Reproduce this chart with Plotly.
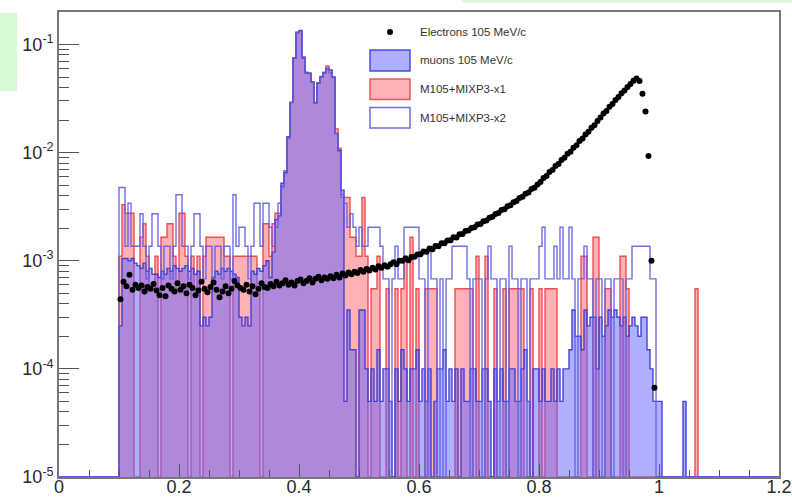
import plotly.graph_objects as go

# ---------------------------------------------------------------------------
# Histogram binning (normalised spectra, 0.005 wide bins starting at 0.1)
# ---------------------------------------------------------------------------
BIN_LO = 0.1
BIN_W = 0.005
X_RANGE = [0.0, 1.2]
Y_MIN = 1e-5

# weight of one entry in each normalised histogram (1 / number of events)
MUON_UNIT = 5.0e-5
MIX1_UNIT = 5.5e-4
MIX2_UNIT = 6.8e-4
ELEC_UNIT = 1.0e-4

# muons 105 MeV/c : entries per bin
muon_counts = [
    5, 21, 21, 20, 21, 19, 18, 17, 19, 16,
    17, 15, 15, 14, 16, 15, 17, 16, 18, 17,
    16, 17, 18, 16, 17, 15, 16, 5, 6, 5,
    6, 14, 16, 15, 17, 16, 17, 16, 15, 14,
    6, 5, 6, 5, 16, 15, 17, 16, 18, 20,
    14, 24, 48, 52, 104, 130, 280, 580, 1500, 2600,
    2700, 1500, 1100, 1080, 900, 580, 880, 1000, 1100, 1200,
    1160, 1000, 300, 210, 90, 1, 7, 3, 3, 0,
    7, 7, 2, 1, 2, 1, 3, 1, 2, 2,
    1, 0, 2, 1, 3, 2, 1, 2, 2, 3,
    1, 2, 1, 2, 0, 1, 2, 2, 3, 1,
    2, 1, 2, 0, 2, 1, 1, 2, 2, 1,
    1, 2, 2, 1, 0, 2, 1, 2, 1, 1,
    2, 2, 1, 1, 2, 3, 1, 0, 2, 2,
    1, 2, 1, 1, 2, 1, 2, 1, 2, 2,
    3, 7, 4, 4, 3, 7, 5, 6, 6, 2,
    6, 4, 5, 7, 6, 7, 6, 5, 6, 4,
    5, 6, 5, 4, 6, 6, 3, 2, 1, 1,
    1, 0, 0, 0, 0, 0, 0, 0, 1, 0,
    0, 0, 0, 0,
]

# M105+MIXP3-x1 : entries per bin
mix1_counts = [
    2, 6, 5, 5, 5, 0, 0, 3, 4, 2,
    1, 1, 2, 0, 3, 3, 4, 4, 2, 1,
    5, 5, 2, 0, 2, 1, 2, 0, 2, 3,
    3, 3, 3, 3, 3, 2, 2, 0, 2, 2,
    2, 2, 2, 2, 2, 2, 1, 0, 4, 4,
    2, 4, 5, 5, 9, 12, 25, 53, 136, 230,
    240, 140, 100, 98, 82, 52, 80, 92, 100, 115,
    100, 90, 30, 20, 7, 7, 7, 3, 3, 2,
    2, 7, 2, 0, 1, 1, 2, 0, 0, 1,
    0, 0, 1, 0, 1, 2, 0, 3, 0, 1,
    0, 0, 1, 1, 1, 1, 0, 0, 0, 0,
    0, 0, 1, 1, 1, 1, 1, 1, 0, 2,
    0, 0, 2, 0, 0, 1, 0, 0, 1, 0,
    1, 1, 1, 1, 1, 0, 0, 1, 0, 0,
    1, 0, 1, 1, 1, 1, 0, 0, 0, 0,
    0, 0, 0, 0, 2, 2, 0, 0, 3, 3,
    0, 0, 1, 1, 0, 0, 0, 2, 2, 1,
    0, 0, 0, 0, 0, 0, 0, 0, 0, 0,
    0, 0, 0, 0, 0, 0, 0, 0, 0, 0,
    0, 0, 1, 0,
]

# M105+MIXP3-x2 : entries per bin
mix2_counts = [
    7, 7, 2, 5, 2, 2, 2, 4, 2, 1,
    2, 4, 4, 2, 1, 2, 2, 1, 2, 6,
    6, 2, 2, 1, 2, 4, 4, 2, 1, 2,
    2, 1, 2, 2, 1, 2, 2, 1, 6, 2,
    3, 3, 2, 1, 2, 5, 5, 2, 5, 5,
    3, 2, 3, 5, 7, 10, 20, 43, 110, 190,
    195, 110, 80, 80, 66, 43, 65, 73, 80, 88,
    85, 73, 22, 15, 6, 5, 3, 4, 3, 2,
    3, 2, 2, 3, 3, 3, 3, 2, 1, 1,
    0, 1, 2, 1, 1, 3, 3, 3, 3, 3,
    1, 1, 0, 2, 1, 1, 0, 1, 0, 1,
    1, 2, 2, 2, 2, 2, 1, 0, 1, 1,
    1, 0, 1, 2, 1, 1, 0, 1, 1, 0,
    2, 1, 1, 0, 1, 1, 0, 1, 1, 1,
    2, 3, 1, 1, 1, 2, 1, 3, 1, 1,
    3, 1, 0, 1, 1, 2, 1, 1, 0, 1,
    1, 0, 1, 1, 0, 1, 1, 1, 0, 1,
    1, 2, 2, 2, 2, 2, 2, 1, 1, 0,
    0, 0, 0, 0, 0, 0, 0, 0, 0, 0,
    0, 0, 0, 0,
]

# Electrons 105 MeV/c : normalised content per bin, in units of ELEC_UNIT
electron_vals = [
    4.4, 6.4, 5.8, 7.4, 5.4, 6.0, 5.6, 5.9, 5.2, 5.7,
    5.5, 6.1, 5.3, 4.8, 5.6, 4.7, 5.9, 5.5, 5.2, 6.2,
    5.4, 5.8, 5.0, 6.0, 5.6, 4.8, 5.3, 6.4, 5.5, 5.1,
    5.7, 6.3, 5.4, 4.6, 5.2, 5.8, 5.0, 5.5, 6.5, 5.9,
    5.6, 5.4, 6.0, 5.2, 5.8, 4.9, 5.5, 6.2, 5.7, 5.6,
    6.1, 5.8, 6.4, 5.9, 6.2, 6.6, 6.0, 6.3, 5.9, 6.5,
    6.7, 6.2, 6.5, 6.9, 6.3, 6.8, 7.1, 6.6, 7.0, 6.8,
    7.2, 6.9, 7.4, 7.0, 7.6, 7.3, 7.8, 7.5, 7.9, 7.7,
    8.2, 7.9, 8.4, 8.1, 8.6, 8.3, 8.9, 8.6, 9.1, 8.8,
    9.3, 9.7, 9.3, 10.0, 10.0, 10.5, 10.1, 10.8, 10.9, 11.4,
    11.5, 12.2, 12.1, 12.9, 12.8, 13.7, 13.6, 14.5, 14.5, 15.4,
    15.5, 16.5, 16.4, 17.6, 17.7, 18.8, 19.0, 20.1, 20.4, 21.6,
    21.9, 23.2, 23.6, 25.0, 25.5, 27.0, 27.6, 29.4, 29.9, 31.9,
    32.6, 34.8, 35.6, 38.0, 39.0, 41.7, 42.8, 46.0, 47.3, 50.8,
    53.5, 58.2, 60.8, 66.1, 69.0, 75.2, 78.5, 85.5, 89.5, 97.3,
    102, 111, 117, 128, 135, 147, 156, 170, 179, 196,
    211, 230, 243, 265, 281, 307, 326, 354, 376, 405,
    430, 462, 485, 458, 350, 240, 93, 10, 0.67,
]

# tick labels
x_ticks = [0.0, 0.2, 0.4, 0.6, 0.8, 1.0, 1.2]
x_ticktext = ["0", "0.2", "0.4", "0.6", "0.8", "1", "1.2"]
y_ticks = [1e-5, 1e-4, 1e-3, 1e-2, 1e-1]
y_ticktext = ["10<sup>-5</sup>", "10<sup>-4</sup>", "10<sup>-3</sup>",
              "10<sup>-2</sup>", "10<sup>-1</sup>"]

legend_labels = ["Electrons 105 MeV/c", "muons 105 MeV/c",
                 "M105+MIXP3-x1", "M105+MIXP3-x2"]

# ---------------------------------------------------------------------------
FONT = "Liberation Sans, Arial, Helvetica, sans-serif"
W, H = 792, 500
M_L, M_R, M_T, M_B = 59, 13, 12, 23


def step_outline(counts, unit):
    """Histogram contour as an 'hv' step path; empty bins sit on the axis floor."""
    n = len(counts)
    xs = [X_RANGE[0], BIN_LO]
    ys = [Y_MIN, Y_MIN]
    for i, c in enumerate(counts):
        xs.append(BIN_LO + i * BIN_W)
        ys.append(max(c * unit, Y_MIN))
    xs += [BIN_LO + n * BIN_W, X_RANGE[1]]
    ys += [Y_MIN, Y_MIN]
    return xs, ys


def hist_trace(counts, unit, line_color, fill_color):
    xs, ys = step_outline(counts, unit)
    return go.Scatter(
        x=xs, y=ys, mode="lines", line_shape="hv",
        line=dict(color=line_color, width=1.4),
        fill="tozeroy" if fill_color else None,
        fillcolor=fill_color,
        hoverinfo="skip", showlegend=False,
    )


fig = go.Figure()

# M105+MIXP3-x1 (red, filled)
fig.add_trace(hist_trace(mix1_counts, MIX1_UNIT,
                         "rgba(240,70,75,0.95)", "rgba(255,70,80,0.42)"))
# muons (blue, filled)
fig.add_trace(hist_trace(muon_counts, MUON_UNIT,
                         "rgba(60,60,210,0.95)", "rgba(95,95,255,0.50)"))
# M105+MIXP3-x2 (blue, open)
fig.add_trace(hist_trace(mix2_counts, MIX2_UNIT,
                         "rgba(95,95,225,0.90)", None))

# electrons (black markers at bin centres)
ex = [BIN_LO + (i + 0.5) * BIN_W for i in range(len(electron_vals))]
ey = [v * ELEC_UNIT for v in electron_vals]
fig.add_trace(go.Scatter(
    x=ex, y=ey, mode="markers",
    marker=dict(color="black", size=6, line=dict(width=0)),
    hoverinfo="skip", showlegend=False,
))


# ---------------------------------------------------------------------------
# pixel -> paper helpers for the legend and page decorations
def px(xp):
    return (xp - M_L) / (W - M_L - M_R)


def py(yp):
    return (H - M_B - yp) / (H - M_T - M_B)


shapes = [
    # pale green page elements around the canvas
    dict(type="rect", xref="paper", yref="paper", layer="below",
         x0=px(0), x1=px(17), y0=py(91), y1=py(13),
         line=dict(width=0), fillcolor="#d6fad6"),
    dict(type="rect", xref="paper", yref="paper", layer="below",
         x0=px(462), x1=px(792), y0=py(2.5), y1=py(0),
         line=dict(width=0), fillcolor="#d6fad6"),
    # legend symbols
    dict(type="circle", xref="paper", yref="paper",
         x0=px(387), x1=px(393), y0=py(35), y1=py(29),
         line=dict(width=0), fillcolor="black"),
    dict(type="rect", xref="paper", yref="paper",
         x0=px(370), x1=px(410), y0=py(71), y1=py(50),
         line=dict(color="rgba(60,60,210,0.9)", width=1.5),
         fillcolor="rgba(95,95,255,0.50)"),
    dict(type="rect", xref="paper", yref="paper",
         x0=px(370), x1=px(410), y0=py(99.5), y1=py(79),
         line=dict(color="rgba(240,70,75,0.9)", width=1.5),
         fillcolor="rgba(255,70,80,0.42)"),
    dict(type="rect", xref="paper", yref="paper",
         x0=px(370), x1=px(410), y0=py(128), y1=py(107.5),
         line=dict(color="rgba(95,95,225,0.9)", width=1.5),
         fillcolor="white"),
]

annotations = []
for label, yp in zip(legend_labels, [32, 60.5, 89, 118]):
    annotations.append(dict(
        xref="paper", yref="paper", x=px(418), y=py(yp),
        xanchor="left", yanchor="middle", showarrow=False,
        text=label, font=dict(family=FONT, size=11.5, color="#333"),
    ))

y_minor = [m * 10.0 ** e for e in range(-5, -1) for m in range(2, 10)]
y_minor += [m * 1e-1 for m in (2,)]

fig.update_layout(
    width=W, height=H,
    margin=dict(l=M_L, r=M_R, t=M_T, b=M_B, pad=0, autoexpand=False),
    paper_bgcolor="white", plot_bgcolor="white",
    showlegend=False,
    shapes=shapes, annotations=annotations,
    xaxis=dict(
        range=X_RANGE, tickmode="array", tickvals=x_ticks, ticktext=x_ticktext,
        ticks="inside", ticklen=13, tickwidth=1.3, tickcolor="#555",
        minor=dict(tickmode="linear", tick0=0, dtick=0.05, ticks="inside",
                   ticklen=7, tickwidth=1.1, tickcolor="#555"),
        showline=True, linecolor="#777", linewidth=1.6, mirror=True,
        showgrid=False, zeroline=False, automargin=False,
        ticklabelstandoff=-7,
        tickfont=dict(family=FONT, size=18, color="#2a2a2a"),
    ),
    yaxis=dict(
        type="log", range=[-5, -0.70],
        tickmode="array", tickvals=y_ticks, ticktext=y_ticktext,
        ticks="inside", ticklen=20, tickwidth=1.3, tickcolor="#555",
        minor=dict(tickmode="array", tickvals=y_minor, ticks="inside",
                   ticklen=10, tickwidth=1.1, tickcolor="#555"),
        showline=True, linecolor="#777", linewidth=1.6, mirror=True,
        showgrid=False, zeroline=False, automargin=False,
        tickfont=dict(family=FONT, size=18, color="#2a2a2a"),
    ),
)

fig.write_html("out.html")
